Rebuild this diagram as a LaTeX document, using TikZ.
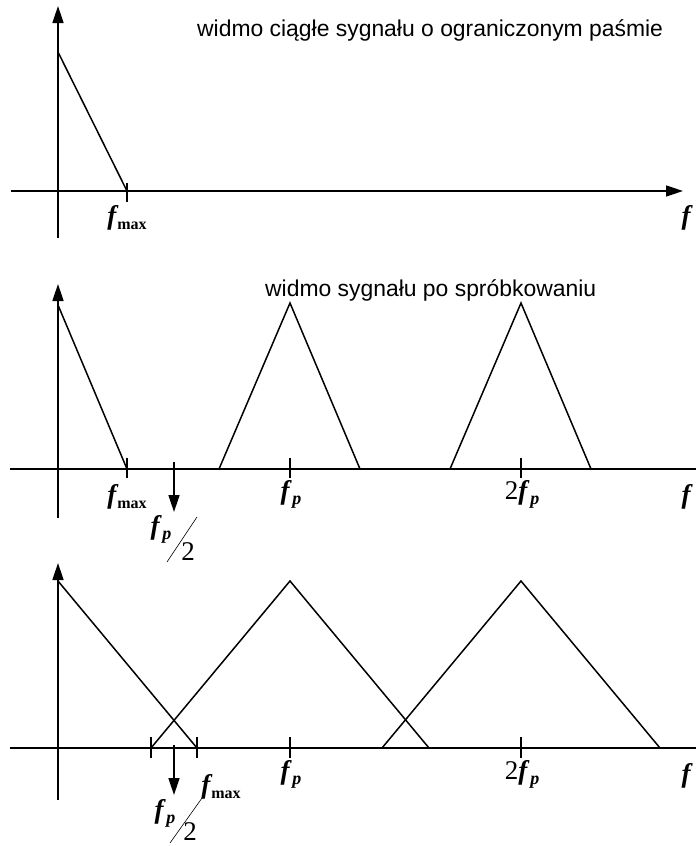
\documentclass[tikz,border=0pt]{standalone}
\usepackage{fontspec}
\setmainfont{Liberation Serif}
\newfontfamily\titlefont{Liberation Sans}
\usetikzlibrary{arrows.meta}
\newcommand{\fv}{{\fontsize{27}{27}\selectfont\bfseries\itshape f}}
\newcommand{\lsub}[1]{\raisebox{-5pt}{\fontsize{16}{16}\selectfont\bfseries #1}}
\newcommand{\fmx}{\fv\kern1pt\lsub{max}}
\newcommand{\fpp}{\fv\kern3pt\lsub{\fontsize{18}{18}\selectfont\itshape p}}
\newcommand{\two}{{\fontsize{27}{27}\selectfont 2}}
\tikzset{
  axis/.style={line width=1.6pt,-{Triangle[length=17pt,width=11pt]}},
  curve/.style={line width=1.5pt},
  tickmark/.style={line width=1.3pt},
  lbl/.style={inner sep=0pt},
  ttl/.style={inner sep=0pt,anchor=west,font=\titlefont\fontsize{22.9}{23}\selectfont},
}
\begin{document}
\begin{tikzpicture}[x=1pt,y=-1pt]
\useasboundingbox (0,0) rectangle (696,846);
% --- panel 1: continuous spectrum
\coordinate (y1b) at (58,238); \coordinate (y1t) at (58,6);
\coordinate (x1l) at (11,191); \coordinate (x1r) at (683,191);
\coordinate (top1) at (58,52); \coordinate (fm1) at (127,191);
\draw[axis] (y1b) -- (y1t);
\draw[axis] (x1l) -- (x1r);
\draw[curve] (top1) -- (fm1);
\draw[tickmark] (fm1) ++(0,-8) -- ++(0,19);
\node[lbl] (lfm1) at (127,218) {\fmx};
\node[lbl] (lf1) at (686,218) {\fv};
\node[ttl] (ttl1) at (197,30) {widmo ciągłe sygnału o ograniczonym paśmie};
% --- panel 2: sampled, fp > 2 fmax
\coordinate (y2b) at (58,518); \coordinate (y2t) at (58,284);
\coordinate (x2l) at (10,469); \coordinate (x2r) at (713,469);
\coordinate (top2) at (58,305); \coordinate (fm2) at (127,469);
\draw[axis] (y2b) -- (y2t);
\draw[axis] (x2l) -- (x2r);
\draw[curve] (top2) -- (fm2);
\foreach \c in {290,521}
  \draw[curve] (\c-71,469) -- (\c,303) -- (\c+70,469);
\foreach \t in {127,290,521}
  \draw[tickmark] (\t,458) -- (\t,478);
\coordinate (h2a) at (174,462); \coordinate (h2b) at (174,512);
\draw[axis] (h2a) -- (h2b);
\node[lbl] (lfm2) at (127,497) {\fmx};
\node[lbl] (lfp2) at (291,494) {\fpp};
\node[lbl] (l2fp2) at (522,494) {\two\fpp};
\node[lbl] (lf2) at (686,497) {\fv};
\node[lbl] (hn2) at (161,529) {\fpp};
\draw[line width=0.6pt] (197,517) -- (167,562);
\node[lbl] (hd2) at (188,552) {\two};
\node[ttl] (ttl2) at (265,290) {widmo sygnału po spróbkowaniu};
% --- panel 3: sampled, overlapping (aliasing)
\coordinate (y3b) at (58,800); \coordinate (y3t) at (58,563);
\coordinate (x3l) at (10,748); \coordinate (x3r) at (713,748);
\coordinate (top3) at (58,581); \coordinate (fm3) at (197,748);
\draw[axis] (y3b) -- (y3t);
\draw[axis] (x3l) -- (x3r);
\draw[curve] (top3) -- (fm3);
\foreach \c in {290,521}
  \draw[curve] (\c-139,748) -- (\c,581) -- (\c+139,748);
\foreach \t in {151,197,290,521}
  \draw[tickmark] (\t,737) -- (\t,758);
\coordinate (h3a) at (174,745); \coordinate (h3b) at (174,795);
\draw[axis] (h3a) -- (h3b);
\node[lbl] (lfm3) at (221,787) {\fmx};
\node[lbl] (lfp3) at (291,774) {\fpp};
\node[lbl] (l2fp3) at (522,774) {\two\fpp};
\node[lbl] (lf3) at (686,776) {\fv};
\node[lbl] (hn3) at (165,813) {\fpp};
\draw[line width=0.6pt] (202,798) -- (170,843);
\node[lbl] (hd3) at (190,832) {\two};
\end{tikzpicture}
\end{document}
